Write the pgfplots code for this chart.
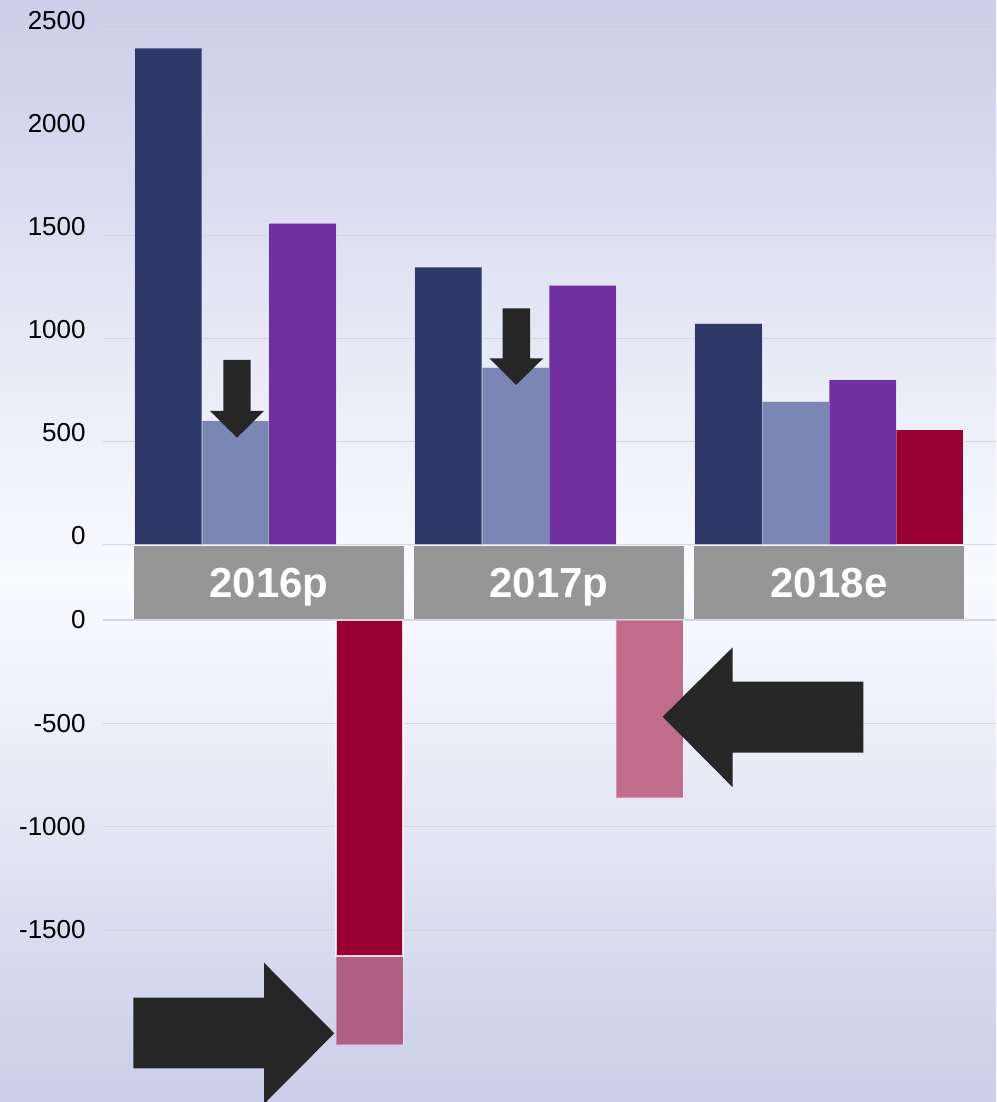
\documentclass[border=0pt]{standalone}
\usepackage{fontspec}
\setmainfont{Liberation Sans}
\usepackage{pgfplots}
\pgfplotsset{compat=1.18}

\definecolor{navy}{RGB}{46,56,104}
\definecolor{lightbar}{RGB}{123,134,180}
\definecolor{purplebar}{RGB}{112,48,160}
\definecolor{redbar}{RGB}{153,0,51}
\definecolor{pinkA}{RGB}{176,94,130}
\definecolor{pinkB}{RGB}{192,108,138}
\definecolor{arrowc}{RGB}{38,38,38}
\definecolor{bandgray}{RGB}{150,150,150}
\definecolor{gridc}{RGB}{214,214,224}
\definecolor{lav}{RGB}{202,206,232}
\definecolor{paper}{RGB}{250,251,255}

% 1 px of the reference = 0.5pt; x unit = one category (280 px)
\pgfplotsset{
  panel/.style={
    width=446.5pt, scale only axis,
    xmin=-0.5929, xmax=2.5964,
    axis line style={draw=none},
    major tick length=0pt,
    ymajorgrids, grid style={gridc, line width=0.6pt},
    yticklabel style={font=\fontsize{13}{15}\selectfont, inner sep=0pt, xshift=-8.5pt},
  },
  grpbar/.style={ybar, bar width=0.2393, bar shift=#1,
    draw=white, draw opacity=0.3, line width=0.5pt},
}

\begin{document}
\begin{tikzpicture}
\useasboundingbox (0,0) rectangle (498pt,-551pt);
\shade[top color=lav, bottom color=paper] (0,0) rectangle (498pt,-290pt);
\shade[top color=paper, bottom color=lav] (0,-290pt) rectangle (498pt,-551pt);

% positive values
\begin{axis}[panel,
    at={(51.5pt,0pt)}, anchor=north west, height=272.15pt,
    ymin=0, ymax=2642,
    ytick={0,500,1000,1500,2000,2500},
    yticklabels={0,500,1000,1500,2000,2500},
    yticklabel style={anchor=base east},
    xtick={0,1,2}, xticklabels={2016p,2017p,2018e},
    xticklabel style={fill=bandgray, text=white,
      font=\bfseries\fontsize{21}{21}\selectfont,
      minimum width=135pt, minimum height=36.8pt,
      inner sep=0pt, text depth=0pt, anchor=north, yshift=-0.7pt},
  ]
  \addplot[grpbar=-0.359, fill=navy] coordinates {(0,2408) (1,1345) (2,1071)};
  \addplot[grpbar=-0.1196, fill=lightbar] coordinates {(0,599) (1,857) (2,692)};
  \addplot[grpbar=0.1196, fill=purplebar] coordinates {(0,1558) (1,1257) (2,798)};
  \addplot[grpbar=0.359, fill=redbar] coordinates {(2,556)};

  \fill[arrowc] (-0.1632,894.7) -- (-0.0654,894.7) -- (-0.0654,647.1)
    -- (-0.0179,647.1) -- (-0.1143,517.5) -- (-0.2107,647.1)
    -- (-0.1632,647.1) -- cycle;
  \fill[arrowc] (0.8346,1145.6) -- (0.9321,1145.6) -- (0.9321,902.9)
    -- (0.9796,902.9) -- (0.8821,773.3) -- (0.7868,902.9)
    -- (0.8346,902.9) -- cycle;
\end{axis}

% negative values
\begin{axis}[panel,
    at={(51.5pt,-310pt)}, anchor=north west, height=241pt,
    ymin=-2333, ymax=0,
    ytick={-1500,-1000,-500,0},
    yticklabels={-1500,-1000,-500,0},
    yticklabel style={anchor=east},
    xtick=\empty,
  ]
  \addplot[grpbar=0.359, fill=pinkA] coordinates {(0,-2057)};
  \addplot[grpbar=0.359, fill=redbar, draw opacity=0.8, line width=0.8pt] coordinates {(0,-1626)};
  \addplot[grpbar=0.359, fill=pinkB] coordinates {(1,-860)};

  \fill[arrowc] (2.1225,-298.6) -- (1.6561,-298.6) -- (1.6561,-132.1)
    -- (1.4061,-468.1) -- (1.6561,-809.8) -- (1.6561,-642.3)
    -- (2.1225,-642.3) -- cycle;
  \fill[arrowc] (-0.4846,-1828.2) -- (-0.0179,-1828.2) -- (-0.0179,-1658.8)
    -- (0.2332,-2000.5) -- (-0.0179,-2342.7) -- (-0.0179,-2169.9)
    -- (-0.4846,-2169.9) -- cycle;
\end{axis}
\end{tikzpicture}
\end{document}
